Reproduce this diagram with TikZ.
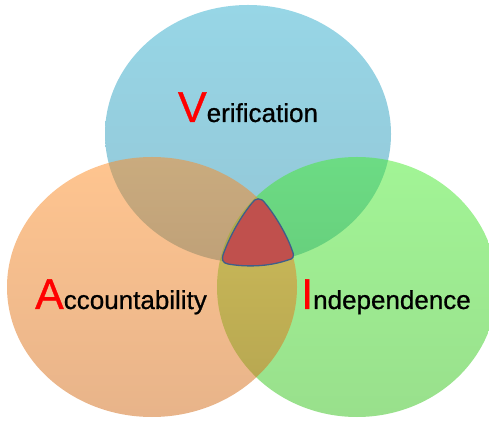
\documentclass[tikz,border=0pt]{standalone}
\usepackage{fontspec}
\newfontfamily\vennfont[FakeBold=0.8]{Liberation Sans}
\usetikzlibrary{shapes.geometric}

\definecolor{vblue1}{RGB}{151,214,230}
\definecolor{vblue2}{RGB}{147,198,214}
\definecolor{aorange1}{RGB}{255,139,33}
\definecolor{aorange2}{RGB}{209,105,21}
\definecolor{igreen1}{RGB}{69,235,45}
\definecolor{igreen2}{RGB}{51,193,25}
\definecolor{core}{RGB}{192,80,77}
\definecolor{coreline}{RGB}{62,95,138}

\newcommand{\bigletter}[1]{{\color{red}\fontsize{43}{50}\selectfont #1}}

\begin{document}
\begin{tikzpicture}[x=1pt, y=1pt,
	set/.style={ellipse, inner sep=0pt, draw=none},
	word/.style={anchor=base, inner sep=0pt, font=\vennfont\fontsize{26}{30}\selectfont}]
	\useasboundingbox (0,0) rectangle (489,420);

	% the three sets
	\node[set, minimum width=286pt, minimum height=258pt,
		top color=vblue1, bottom color=vblue2] (verif) at (248,286) {};
	\node[set, minimum width=280pt, minimum height=260pt, fill opacity=0.5,
		top color=igreen1, bottom color=igreen2] (indep) at (357,133) {};
	\node[set, minimum width=290pt, minimum height=260pt, fill opacity=0.5,
		top color=aorange1, bottom color=aorange2] (account) at (152,133) {};

	% common part
	\filldraw[fill=core, draw=coreline, line width=1.3pt]
		(252,217) .. controls (255,222) and (261,223) .. (265,217)
		.. controls (275,205) and (287,185) .. (292,170)
		.. controls (295,163) and (293,161) .. (288,160)
		.. controls (268,153) and (245,153) .. (228,156)
		.. controls (222,157) and (222,161) .. (223,165)
		.. controls (230,185) and (242,205) .. (252,217) -- cycle;

	\node[word] (verifword) at (248,298) {\bigletter{V}erification};
	\node[word] (accountword) at (121,111) {\bigletter{A}ccountability};
	\node[word] (indepword) at (386,111) {\bigletter{I}ndependence};
\end{tikzpicture}
\end{document}
